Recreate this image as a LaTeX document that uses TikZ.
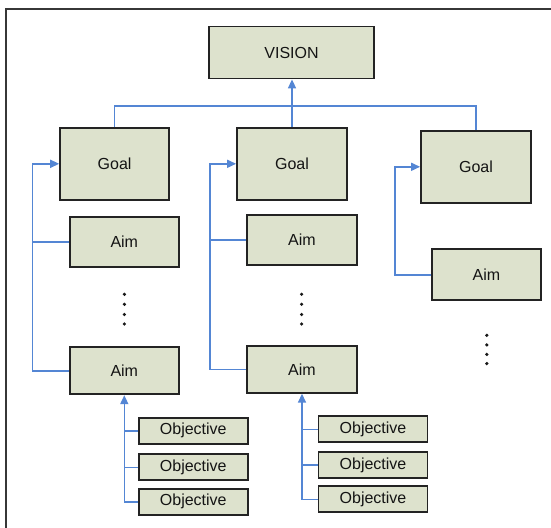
\documentclass[tikz,border=0pt]{standalone}
\usepackage{fontspec}
\setmainfont{Liberation Sans}
\usetikzlibrary{arrows.meta}
\definecolor{boxfill}{RGB}{221,226,205}
\definecolor{boxline}{RGB}{35,35,35}
\definecolor{linkblue}{RGB}{84,134,212}
\definecolor{framegray}{RGB}{55,55,55}
\tikzset{
  x=1pt, y=-1pt,
  box/.style={draw=boxline, fill=boxfill, line width=1.8pt, inner sep=0pt,
    text=black!92, font=\fontsize{16}{19}\selectfont},
  bigbox/.style={box, minimum width=109pt, minimum height=72pt},
  aimbox/.style={box, minimum width=109pt, minimum height=49pt},
  objbox/.style={box, minimum width=109pt, minimum height=26pt},
  link/.style={draw=linkblue, line width=1.6pt},
  arr/.style={link, -{Triangle[length=9pt,width=8pt]}},
  vdot/.style={fill=black!90},
}
\begin{document}
\begin{tikzpicture}
\useasboundingbox (0,0) rectangle (551,527);
\begin{scope}
\clip (0,0) rectangle (551,527);
\draw[framegray, line width=2pt] (5.6,9.5) rectangle (600,600);
\end{scope}

\node[box, minimum width=165pt, minimum height=52pt] (vision) at (291.5,52.5) {VISION};

\node[bigbox] (g1) at (114.6,163.8) {Goal};
\node[bigbox, minimum width=110pt] (g2) at (292,163.8) {Goal};
\node[bigbox, minimum width=110pt] (g3) at (476,166.8) {Goal};

\node[aimbox, minimum height=50pt] (a1a) at (124.3,241.7) {Aim};
\node[aimbox, minimum height=47pt] (a1b) at (124.3,370.8) {Aim};
\node[aimbox, minimum width=110pt, minimum height=50pt] (a2a) at (302,240.2) {Aim};
\node[aimbox, minimum width=110pt, minimum height=47pt] (a2b) at (302,369.3) {Aim};
\node[aimbox, minimum height=51pt] (a3) at (486.5,274.7) {Aim};

\node[objbox] (o1a) at (193.3,430.7) {Objective};
\node[objbox] (o1b) at (193.3,467.3) {Objective};
\node[objbox] (o1c) at (193.3,501.7) {Objective};
\node[objbox] (o2a) at (373,429.3) {Objective};
\node[objbox] (o2b) at (373,465) {Objective};
\node[objbox] (o2c) at (373,499.3) {Objective};

% goals to vision
\coordinate (bus) at (292,106);
\draw[link] (g1.north) |- (bus) -| (g3.north);
\draw[arr] (g2.north) -- (g2.north |- vision.south);

% aims to goals
\coordinate (c1) at (32.3,0);
\coordinate (c2) at (210,0);
\coordinate (c3) at (395,0);
\draw[arr] (a1b.west) -- (a1b.west -| c1) -- (g1.west -| c1) -- (g1.west);
\draw[link] (a1a.west) -- (a1a.west -| c1);
\draw[arr] (a2b.west) -- (a2b.west -| c2) -- (g2.west -| c2) -- (g2.west);
\draw[link] (a2a.west) -- (a2a.west -| c2);
\draw[arr] (a3.west) -- (a3.west -| c3) -- (g3.west -| c3) -- (g3.west);

% objectives to aims
\draw[arr] (o1c.west) -| (a1b.south);
\draw[link] (o1a.west) -- (o1a.west -| a1b.south);
\draw[link] (o1b.west) -- (o1b.west -| a1b.south);
\draw[arr] (o2c.west) -| (a2b.south);
\draw[link] (o2a.west) -- (o2a.west -| a2b.south);
\draw[link] (o2b.west) -- (o2b.west -| a2b.south);

% vertical ellipses
\foreach \y in {294.3,304.3,314.5,324} {
  \fill[vdot] (124.4,\y) circle (1.8);
  \fill[vdot] (301.6,\y) circle (1.8);
}
\foreach \y in {335.3,344.9,354.4,363.6} {
  \fill[vdot] (486.8,\y) circle (1.8);
}
\end{tikzpicture}
\end{document}
